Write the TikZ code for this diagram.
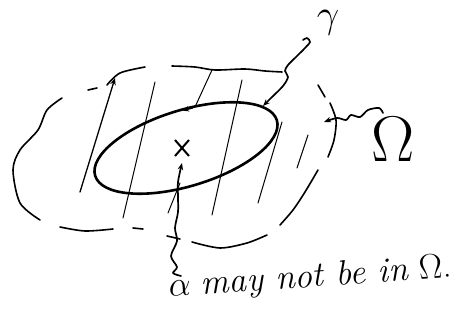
\documentclass[tikz,border=0pt]{standalone}
\usetikzlibrary{arrows.meta,shapes.misc}
\begin{document}
\begin{tikzpicture}[x=1pt,y=-1pt,
  bound/.style={line width=1.6pt, line cap=round},
  hatch/.style={line width=1pt, line cap=round},
  curve/.style={line width=2.6pt},
  squig/.style={line width=1.7pt, line cap=round, line join=round},
  tip/.style={-{Stealth[length=7pt,width=5.5pt]}},
  lbl/.style={inner sep=0pt, font=\Huge}]
\useasboundingbox (0,0) rectangle (461,336);
% closed curve gamma
\draw[curve, rotate around={17:(186,148)}] (186,148) ellipse [x radius=95pt, y radius=38pt];
\coordinate (a0) at (193,107.6);
\coordinate (a1) at (182,110.5);
\draw[line width=1.8pt, tip] (a0) -- (a1);
% dashed boundary of Omega
\draw[bound] plot[smooth] coordinates {(62,98) (47,110) (38,130) (20,150) (13,170) (20,203) (40,220)};
\draw[bound] (88,90) -- (97,88);
\draw[bound] plot[smooth] coordinates {(107,85) (120,73) (145,67)};
\draw[bound] plot[smooth] coordinates {(172,66) (195,67) (215,70) (245,69) (265,71) (282,72)};
\draw[bound] (318,85) -- (325,97);
\draw[bound] plot[smooth] coordinates {(330,103) (336,120) (334,140) (328,157)};
\draw[bound] plot[smooth] coordinates {(318,170) (305,192) (293,210) (280,225)};
\draw[bound] plot[smooth] coordinates {(267,235) (247,243) (220,248) (192,242)};
\draw[bound] (167,236) -- (180,239);
\draw[bound] (133,228) -- (143,229);
\draw[bound] plot[smooth] coordinates {(60,227) (85,231) (113,229)};
% hatching
\coordinate (h1a) at (80,192); \coordinate (h1b) at (115,78);
\draw[hatch, line width=1.3pt, tip] (h1a) -- (h1b);
\draw[hatch] (123,218) -- (155,82);
\draw[hatch] (195,107) -- (212,70);
\draw[hatch] (168,213) -- (180,183);
\draw[hatch] (212,215) -- (242,80);
\draw[hatch] (258,203) -- (282,122);
\draw[hatch] (297,168) -- (308,135);
% labels
\node[lbl, scale=1.6, anchor=base] (gamma) at (328,28) {$\gamma$};
\node[lbl, scale=2.6] (omega) at (393,139) {$\Omega$};
\node[draw, cross out, line width=2pt, minimum width=12pt, minimum height=14pt, inner sep=0pt] (xmark) at (182,148) {};
\node[lbl, scale=1.41, anchor=base west, rotate=4] (txt) at (169,297)
  {$\alpha$ \textit{may not be in} $\Omega$.};
% squiggly pointers
\coordinate (g0) at (303,40);
\coordinate (g1) at (263,106);
\draw[squig, tip] plot[smooth] coordinates {(g0) (307,38) (310,42) (305,48) (296,57) (288,65) (285,71) (288,77) (283,86) (270,99) (g1)};
\coordinate (o0) at (383,113);
\coordinate (o1) at (324,122);
\draw[squig, tip] plot[smooth] coordinates {(o0) (379,108) (368,110) (360,117) (351,115) (346,120) (337,118) (o1)};
\coordinate (x0) at (181,276);
\coordinate (x1) at (182,163);
\draw[squig, tip] plot[smooth] coordinates {(x0) (173,273) (177,267) (171,256) (177,241) (175,228) (178,212) (178,197) (178,182) (x1)};
\end{tikzpicture}
\end{document}
